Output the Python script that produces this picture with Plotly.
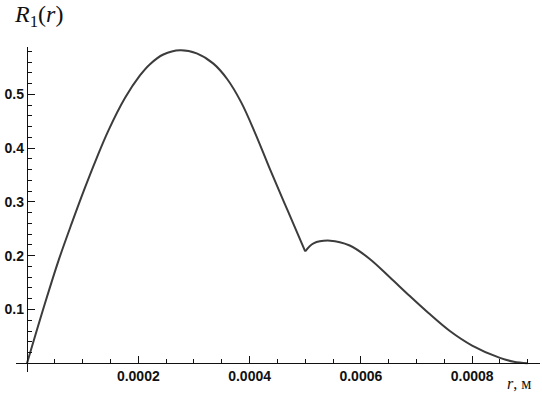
import plotly.graph_objects as go

# Segment 1: 0 .. 0.0005 m
r_inner = [0.0, 0.0000323, 0.0000563, 0.0000803, 0.000104, 0.000125, 0.000146,
           0.000176, 0.000203, 0.000221, 0.000245, 0.000275, 0.000305, 0.000335,
           0.000360, 0.000385, 0.000410, 0.000437, 0.000468, 0.0005]
R_inner = [0.0, 0.1115, 0.190, 0.260, 0.326, 0.381, 0.432,
           0.493, 0.535, 0.556, 0.574, 0.582, 0.576, 0.557,
           0.528, 0.485, 0.428, 0.360, 0.285, 0.208]

# Segment 2: 0.0005 .. 0.0009 m
r_outer = [0.0005, 0.000515, 0.000545, 0.00058, 0.000616, 0.000652, 0.000688,
           0.000721, 0.00076, 0.0008, 0.00085, 0.000875, 0.0009]
R_outer = [0.208, 0.223, 0.228, 0.219, 0.194, 0.160, 0.125,
           0.094, 0.060, 0.033, 0.010, 0.003, 0.0]

x_tickvals = [0.0002, 0.0004, 0.0006, 0.0008]
x_ticktext = ["0.0002", "0.0004", "0.0006", "0.0008"]
y_tickvals = [0.1, 0.2, 0.3, 0.4, 0.5]
y_ticktext = ["0.1", "0.2", "0.3", "0.4", "0.5"]

line_color = "#3c3c3c"
tick_font = dict(family="Liberation Sans", size=14, color="#111111", weight="bold")

fig = go.Figure()
fig.add_trace(go.Scatter(x=r_inner, y=R_inner, mode="lines",
                         line=dict(color=line_color, width=2, shape="spline", smoothing=1.0),
                         showlegend=False, hoverinfo="skip"))
fig.add_trace(go.Scatter(x=r_outer, y=R_outer, mode="lines",
                         line=dict(color=line_color, width=2, shape="spline", smoothing=1.0),
                         showlegend=False, hoverinfo="skip"))

W, H = 542, 393
ml, mr, mt, mb = 16, 2, 47, 21
pw = W - ml - mr
ph = H - mt - mb

fig.update_layout(
    width=W, height=H,
    margin=dict(l=ml, r=mr, t=mt, b=mb, pad=0, autoexpand=False),
    plot_bgcolor="white", paper_bgcolor="white",
    xaxis=dict(
        range=[-0.0000198, 0.000922],
        anchor="free", position=8.7 / ph, automargin=False,
        showline=True, linecolor="#111111", linewidth=1.3,
        showgrid=False, zeroline=False,
        tickmode="array", tickvals=x_tickvals, ticktext=x_ticktext,
        ticks="inside", ticklen=7, tickwidth=1.3, tickcolor="#111111",
        tickfont=tick_font,
        minor=dict(tick0=0, dtick=0.00005, ticks="inside", ticklen=4,
                   tickwidth=1, tickcolor="#111111", showgrid=False),
    ),
    yaxis=dict(
        range=[-8.7 / 538, (363.3 - 47) / 538],
        anchor="free", position=11 / pw, automargin=False,
        showline=True, linecolor="#111111", linewidth=1.3,
        showgrid=False, zeroline=False,
        tickmode="array", tickvals=y_tickvals, ticktext=y_ticktext,
        ticks="inside", ticklen=7, tickwidth=1.3, tickcolor="#111111",
        tickfont=tick_font,
        minor=dict(tick0=0, dtick=0.02, ticks="inside", ticklen=4,
                   tickwidth=1, tickcolor="#111111", showgrid=False),
    ),
    annotations=[
        dict(text="<i>R</i><sub>1</sub>(<i>r</i>)", xref="paper", yref="paper",
             x=(12 - ml) / pw, y=1 + (mt - 16) / ph, xanchor="left", yanchor="middle",
             showarrow=False, font=dict(family="Liberation Serif", size=24, color="#111111")),
        dict(text="<i>r</i>, м", xref="paper", yref="paper",
             x=(505 - ml) / pw, y=-(383 - (H - mb)) / ph, xanchor="left", yanchor="middle",
             showarrow=False, font=dict(family="Liberation Serif", size=16, color="#111111")),
    ],
)

fig.write_html("out.html", config={"displayModeBar": False},
               post_script="document.body.style.margin='0';")
